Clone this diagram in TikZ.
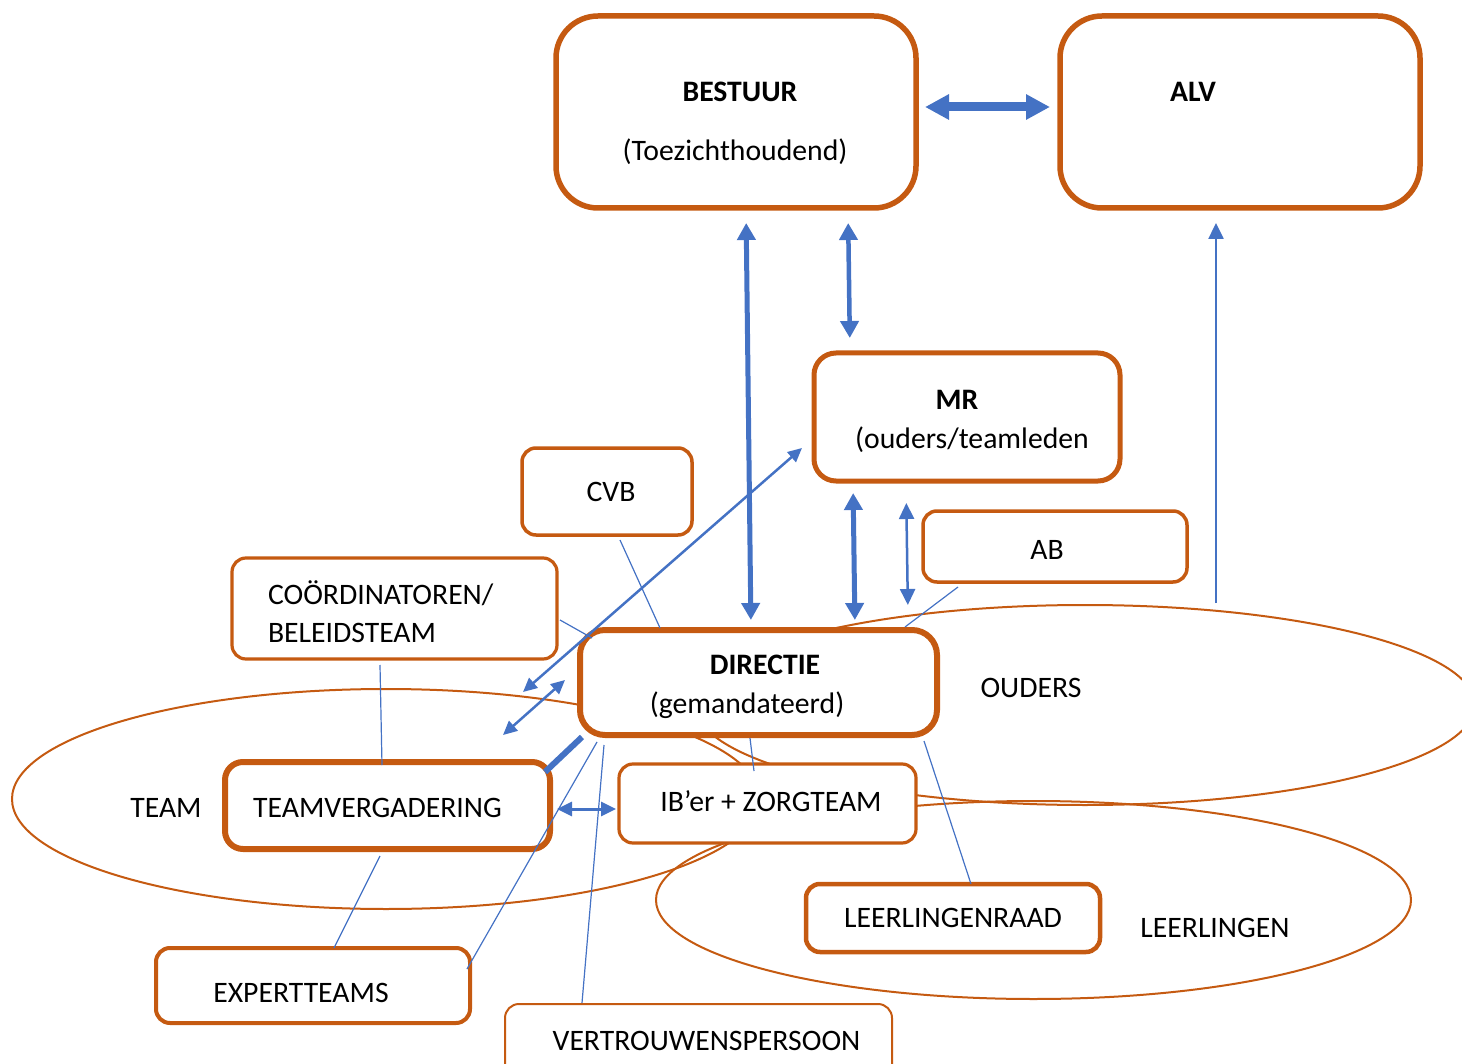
\documentclass[tikz,border=0pt]{standalone}
\usepackage{fontspec}
\setmainfont{Carlito}
\usetikzlibrary{arrows.meta,shapes.geometric}
\definecolor{rim}{HTML}{C55A11}
\definecolor{link}{HTML}{4472C4}
\newcommand{\bodysize}{\fontsize{29.7}{35}\selectfont}
\begin{document}
\begin{tikzpicture}[x=1pt,y=-1pt,
  font=\bodysize,
  box/.style={draw=rim, fill=white, inner sep=0pt, outer sep=0pt, align=center},
  heavy/.style={box, line width=5.5pt},
  light/.style={box, line width=3.2pt, rounded corners=14pt},
  ring/.style={ellipse, draw=rim, line width=2pt, inner sep=0pt, outer sep=0pt},
  wire/.style={draw=link, line width=1.2pt},
  pipe/.style={draw=link, line width=5pt, {Triangle[length=17pt,width=18pt]}-{Triangle[length=17pt,width=18pt]}},
  slim/.style={draw=link, line width=2.5pt, {Triangle[length=15pt,width=14pt]}-{Triangle[length=15pt,width=14pt]}},
  caption/.style={align=center, inner sep=0pt, font=\bodysize},
]
\useasboundingbox (0,0) rectangle (1462,1064);

% groups
\node[ring, minimum width=748, minimum height=220] (team) at (386,799) {};
\node[ring, minimum width=780, minimum height=200] (ouders) at (1085,705) {};
\node[ring, minimum width=755, minimum height=198] (leerlingen) at (1033.5,900) {};
\node (teamlabel) at (166,808) {TEAM};
\node (ouderslabel) at (1031,688) {OUDERS};
\node (leerlingenlabel) at (1215,928) {LEERLINGEN};

% boards
\node[heavy, rounded corners=42pt, minimum width=360, minimum height=192] (bestuur) at (736,112) {};
\node[font=\bodysize\bfseries] (bestuurkop) at (740,92) {BESTUUR};
\node (bestuurrol) at (735,152) {(Toezichthoudend)};
\node[heavy, rounded corners=42pt, minimum width=360, minimum height=192] (alv) at (1240,112) {};
\node[font=\bodysize\bfseries] (alvkop) at (1193,92) {ALV};

\node[heavy, line width=5pt, rounded corners=22pt, minimum width=306, minimum height=128,
  label={[caption, yshift=-4pt]center:\textbf{MR}\hspace*{20pt}\\[4pt]\hspace*{10pt}(ouders/teamleden}] (mr) at (967,417) {};
\node[light, line width=3.5pt, minimum width=170, minimum height=87,
  label={[caption, xshift=4pt]center:CVB}] (cvb) at (607,491.5) {};
\node[light, line width=3.5pt, minimum width=264, minimum height=71,
  label={[caption, xshift=-8pt, yshift=-3.5pt]center:AB}] (ab) at (1055,546.5) {};
\node[light, minimum width=325, minimum height=101,
  label={[caption, align=left, text width=253pt, yshift=-3pt]center:CO\"ORDINATOREN/\\[3pt]BELEIDSTEAM}] (coord) at (394.5,608.5) {};
\node[heavy, line width=6pt, rounded corners=25pt, minimum width=357, minimum height=105,
  label={[caption, yshift=-4pt]center:\hspace*{13pt}\textbf{DIRECTIE}\\[4pt](gemandateerd)\hspace*{23pt}}] (directie) at (758.5,682.5) {};
\node[heavy, line width=6pt, rounded corners=18pt, minimum width=325, minimum height=87,
  label={[caption, xshift=-10pt, yshift=-2.5pt]center:TEAMVERGADERING}] (teamv) at (387.5,805.5) {};
\node[light, minimum width=297, minimum height=79,
  label={[caption, xshift=3.5pt, yshift=2.5pt]center:IB’er + ZORGTEAM}] (ib) at (767.5,803.5) {};
\node[light, line width=4.5pt, minimum width=294, minimum height=68,
  label={[caption]center:LEERLINGENRAAD}] (lr) at (953,918) {};
\node[light, line width=4pt, minimum width=314, minimum height=75,
  label={[caption, xshift=-12pt, yshift=-7.5pt]center:EXPERTTEAMS}] (expert) at (313,985.5) {};
\node[light, line width=2pt, minimum width=387, minimum height=76,
  label={[caption, xshift=8pt, yshift=1pt]center:VERTROUWENSPERSOON}] (vp) at (698.5,1042) {};

% connections
\draw[draw=link, line width=9pt, {Triangle[length=24pt,width=24pt]}-{Triangle[length=24pt,width=24pt]},
      shorten <=9pt, shorten >=10pt] ([yshift=5pt]bestuur.east) -- ([yshift=5pt]alv.west);
\draw[pipe, shorten <=15pt, shorten >=10pt] ([xshift=10pt]bestuur.south) -- ([xshift=-7.5pt]directie.north);
\draw[pipe, line width=4.5pt, shorten <=15pt, shorten >=15pt] ([xshift=112pt]bestuur.south) -- ([xshift=-117pt]mr.north);
\draw[pipe, shorten <=12pt, shorten >=10pt] ([xshift=-114pt]mr.south) -- ([xshift=96.5pt]directie.north);
\draw[slim, {Triangle[length=16pt,width=15pt]}-{Triangle[length=16pt,width=15pt]}, shorten <=22pt, shorten >=11pt]
  ([xshift=-61pt]mr.south) -- ([xshift=-177pt,yshift=-11pt]ouders.north);
\draw[draw=link, line width=2.5pt, -{Triangle[length=16pt,width=15pt]}, shorten >=15pt]
  ([xshift=131pt,yshift=2pt]ouders.north) -- ([xshift=-24pt]alv.south);

\draw[wire] ([xshift=35pt,yshift=-5pt]ab.south west) -- ([xshift=-32pt,yshift=3pt]directie.north east);
\draw[wire] ([xshift=13pt,yshift=-5pt]cvb.south) -- ([xshift=80pt,yshift=2pt]directie.north west);
\draw[wire] ([xshift=3pt,yshift=-11.5pt]coord.east) -- ([xshift=12pt,yshift=-8pt]directie.north west);

\draw[slim, {Triangle[length=14pt,width=13pt]}-{Triangle[length=14pt,width=13pt]}]
  ([xshift=-12pt,yshift=-31pt]mr.west) -- ([xshift=137pt,yshift=107pt]team.center);
\draw[slim, {Triangle[length=14pt,width=13pt]}-{Triangle[length=14pt,width=13pt]}]
  ([xshift=-15pt,yshift=2.5pt]directie.west) -- ([xshift=117pt,yshift=64pt]team.center);
\draw[draw=link, line width=6pt] ([xshift=2pt,yshift=-2pt]directie.south west) -- ([xshift=-5pt,yshift=-10pt]teamv.north east);
\draw[slim, line width=3pt] ([xshift=7pt,yshift=-3.5pt]teamv.east) -- ([xshift=-3pt,yshift=-5.5pt]ib.west);

\draw[wire] ([xshift=-8.5pt,yshift=-3pt]directie.south) -- ([xshift=-13.5pt,yshift=-7pt]ib.north);
\draw[wire] ([xshift=-13pt,yshift=-6pt]directie.south east) -- ([xshift=18pt]lr.north);
\draw[wire] ([xshift=17pt,yshift=-7pt]directie.south west) -- ([xshift=-3pt,yshift=-21pt]expert.north east);
\draw[wire] ([xshift=24pt,yshift=-10pt]directie.south west) -- ([xshift=-116.5pt,yshift=1pt]vp.north);
\draw[wire] ([xshift=-14.5pt,yshift=-6pt]coord.south) -- ([xshift=-5.5pt,yshift=-3pt]teamv.north);
\draw[wire] ([xshift=-7.5pt,yshift=-7pt]teamv.south) -- ([xshift=21pt]expert.north);
\end{tikzpicture}
\end{document}
